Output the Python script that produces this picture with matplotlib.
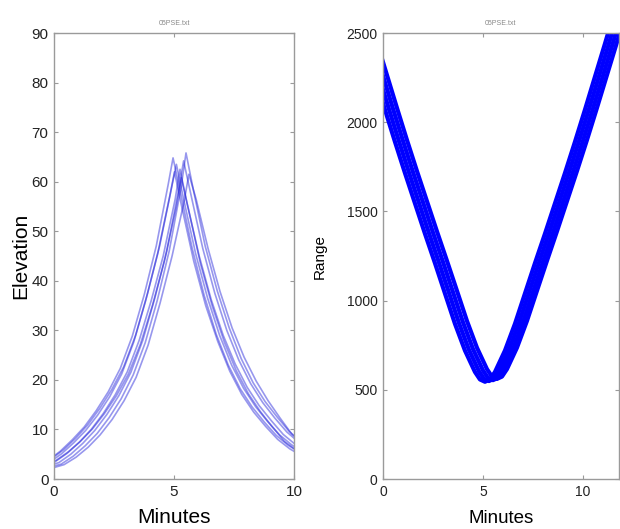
import matplotlib
matplotlib.use("Agg")
import matplotlib.pyplot as plt

plt.rcParams['font.family'] = ['Liberation Sans', 'DejaVu Sans']

# elevation passes: minutes relative to culmination, culmination time per pass
elev_offsets = [-6.2, -5.7, -5.2, -4.7, -4.2, -3.7, -3.2, -2.7, -2.2, -1.7, -1.2, -0.7, -0.2,
                0, 0.3, 0.8, 1.3, 1.8, 2.3, 2.8, 3.3, 3.8, 4.3, 4.8, 5.3, 5.8]
elev_peak_times = [4.96, 5.50, 5.25, 5.62, 5.10, 5.40, 5.30, 5.02]
elev_a = [2.3, 3.0, 3.8, 5.6, 7.9, 10.5, 13.8, 17.6, 22.3, 28.8, 37.2, 47, 59.5,
          64.8, 58, 46.5, 37, 29.2, 23, 18.2, 14.5, 11.5, 8.8, 6.8, 5.3, 4.2]
elev_b = [1.8, 2.4, 3.0, 4.6, 6.7, 9.2, 12.4, 16.2, 21, 27.5, 36, 46, 59,
          65.8, 58.5, 47, 38, 30.5, 24.3, 19.4, 15.6, 12.5, 9.6, 7.5, 5.9, 4.6]
elev_c = [2.2, 2.8, 3.5, 5.2, 7.4, 10, 13.2, 17, 21.6, 28, 36, 45, 56.5,
          62.5, 55.5, 45, 36.2, 29, 23.2, 18.5, 14.8, 11.8, 9, 7, 5.4, 4.3]
elev_d = [1.7, 2.2, 2.9, 4.4, 6.4, 8.9, 12, 15.8, 20.5, 27, 35.5, 45, 56,
          61.5, 56.5, 46.5, 37.8, 30.5, 24.6, 19.8, 15.8, 12.3, 9.0, 7.0, 5.5, 4.3]
elev_e = [2.6, 3.3, 4.1, 5.9, 8.2, 10.9, 14.2, 18, 22.6, 29, 37.5, 47, 58.8,
          63.5, 56.5, 45.5, 36.5, 29, 23, 18.3, 14.6, 11.6, 8.9, 6.9, 5.4, 4.2]
elev_f = [2.0, 2.6, 3.3, 5.0, 7.2, 9.8, 13, 16.8, 21.5, 28, 36.5, 46, 58.5,
          64.2, 57.5, 46.5, 37.5, 30, 24, 19.2, 15.4, 12.3, 9.5, 7.4, 5.8, 4.5]
elev_g = [2.4, 3.0, 3.8, 5.5, 7.6, 10.1, 13.2, 16.8, 21.2, 27.2, 35, 44, 55,
          60.8, 54.5, 43.5, 34.8, 27.6, 21.8, 17.2, 13.6, 10.5, 7.6, 5.8, 4.5, 3.6]
elev_h = [2.1, 2.7, 3.4, 5.1, 7.3, 9.8, 12.9, 16.6, 21.2, 27.6, 36, 45.5, 57,
          62, 55, 44, 35, 27.8, 21.8, 17.1, 13.5, 10.6, 8, 6.1, 4.7, 3.7]
elevations = [elev_a, elev_b, elev_c, elev_d, elev_e, elev_f, elev_g, elev_h]

# range passes: minutes relative to closest approach
range_offsets = [-6, -5.5, -5, -4.5, -4, -3.5, -3, -2.5, -2, -1.5, -1, -0.5, -0.25, 0,
                 0.25, 0.5, 1, 1.5, 2, 2.5, 3, 3.5, 4, 4.5, 5, 5.5, 6, 6.5, 7]
range_min_times = [5.1, 5.3, 5.5, 5.7]
range_a = [2440, 2255, 2070, 1890, 1715, 1545, 1375, 1210, 1040, 870, 720, 600, 558, 545,
           558, 600, 720, 870, 1040, 1210, 1375, 1545, 1715, 1890, 2070, 2255, 2440, 2630, 2820]
range_b = [2442, 2257, 2073, 1893, 1718, 1548, 1378, 1213, 1044, 874, 724, 604, 562, 549,
           562, 604, 724, 874, 1044, 1213, 1378, 1548, 1718, 1893, 2073, 2257, 2442, 2632, 2822]
range_c = [2445, 2260, 2076, 1896, 1721, 1552, 1382, 1217, 1048, 879, 729, 609, 567, 554,
           567, 609, 729, 879, 1048, 1217, 1382, 1552, 1721, 1896, 2076, 2260, 2445, 2635, 2825]
range_d = [2448, 2264, 2080, 1900, 1726, 1557, 1388, 1223, 1055, 886, 736, 616, 574, 561,
           574, 616, 736, 886, 1055, 1223, 1388, 1557, 1726, 1900, 2080, 2264, 2448, 2638, 2828]
ranges = [range_a, range_b, range_c, range_d]

title = '05PSE.txt'
spine_col = '#9a9a9a'

fig = plt.figure(figsize=(6.2, 5.29), dpi=100)
ax1 = fig.add_axes([0.0871, 0.0945, 0.3871, 0.8431])
ax2 = fig.add_axes([0.6177, 0.0945, 0.3806, 0.8431])

for tp, e in zip(elev_peak_times, elevations):
    ax1.plot([tp + o for o in elev_offsets], e, color=(0.1, 0.1, 0.85), alpha=0.45, lw=1.2)
ax1.set_xlim(0, 10)
ax1.set_ylim(0, 90)
ax1.set_xticks([0, 5, 10])
ax1.set_yticks(range(0, 91, 10))
ax1.set_xlabel('Minutes', fontsize=15, labelpad=7)
ax1.set_ylabel('Elevation', fontsize=15, labelpad=1)
ax1.tick_params(labelsize=11)

for tm, r in zip(range_min_times, ranges):
    ax2.plot([tm + o for o in range_offsets], r, color='#0000ff', lw=3)
ax2.set_xlim(0, 11.8)
ax2.set_ylim(0, 2500)
ax2.set_xticks([0, 5, 10])
ax2.set_yticks([0, 500, 1000, 1500, 2000, 2500])
ax2.set_xlabel('Minutes', fontsize=13.5, labelpad=8)
ax2.set_ylabel('Range', fontsize=11, labelpad=14)
ax2.tick_params(labelsize=10)

for ax in (ax1, ax2):
    ax.set_title(title, fontsize=5, color='#888888', pad=6)
    ax.tick_params(direction='in', length=3, color=spine_col, labelcolor='#222222',
                   top=True, right=True, pad=4)
    for s in ax.spines.values():
        s.set_color(spine_col)
        s.set_linewidth(1.0)

fig.savefig('out.png', dpi=100)
